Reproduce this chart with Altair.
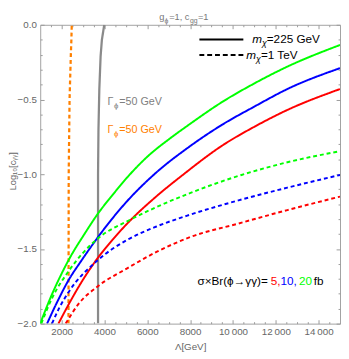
import altair as alt
import pandas as pd

# ---------------- data ----------------
lam_red_225 = [1850, 2410, 2915, 3690, 4370, 5200, 6290, 7700, 9480, 11030, 12540, 15000]
c_red_225 = [-2.0, -1.85, -1.725, -1.56, -1.44, -1.31, -1.165, -1.0, -0.81, -0.68, -0.57, -0.43]

lam_blue_225 = [1320, 1775, 2320, 2915, 3600, 5060, 6330, 8020, 9480, 11030, 12540, 15000]
c_blue_225 = [-2.0, -1.86, -1.71, -1.58, -1.44, -1.18, -1.0, -0.81, -0.67, -0.545, -0.43, -0.29]

lam_green_225 = [1000, 1500, 2000, 2500, 3000, 3690, 4400, 5195, 6100, 7020, 7980, 9480, 11030, 12540, 15000]
c_green_225 = [-2.0, -1.82, -1.665, -1.53, -1.415, -1.265, -1.135, -1.0, -0.87, -0.765, -0.665, -0.518, -0.39, -0.28, -0.135]

lam_red_1t = [2190, 2780, 3690, 5060, 6430, 8020, 10260, 12540, 15000]
c_red_1t = [-2.0, -1.87, -1.75, -1.63, -1.52, -1.42, -1.33, -1.24, -1.15]

lam_blue_1t = [1550, 1870, 2320, 3690, 5060, 6430, 8020, 10260, 12540, 15000]
c_blue_1t = [-2.0, -1.90, -1.79, -1.575, -1.44, -1.35, -1.27, -1.175, -1.09, -1.005]

lam_green_1t = [1050, 1550, 2320, 3690, 5060, 6430, 8020, 10400, 12540, 15000]
c_green_1t = [-2.0, -1.83, -1.65, -1.43, -1.315, -1.22, -1.125, -1.005, -0.92, -0.846]

lam_width_225 = [3700, 3700, 3720, 3760, 3820, 3880, 3990]
c_width_225 = [-2.0, -1.0, -0.7, -0.43, -0.21, -0.1, 0.0]

lam_width_1t = [2320, 2330, 2370, 2430, 2455, 2473]
c_width_1t = [-2.0, -1.0, -0.5, -0.2, -0.1, 0.0]

x_major = [2000, 4000, 6000, 8000, 10000, 12000, 14000]
x_minor = [v for v in range(1500, 15000, 500) if v % 2000 != 0]
y_major = [-2.0, -1.5, -1.0, -0.5, 0.0]
y_minor = [round(-2 + 0.1 * i, 1) for i in range(21) if i % 5 != 0]

curves = [
    ("red225", "solid", lam_red_225, c_red_225),
    ("blue225", "solid", lam_blue_225, c_blue_225),
    ("green225", "solid", lam_green_225, c_green_225),
    ("red1t", "dashed", lam_red_1t, c_red_1t),
    ("blue1t", "dashed", lam_blue_1t, c_blue_1t),
    ("green1t", "dashed", lam_green_1t, c_green_1t),
]
verticals = [
    ("width225", "solid", lam_width_225, c_width_225),
    ("width1t", "dashed", lam_width_1t, c_width_1t),
]
names = [s[0] for s in curves + verticals]
colors = ["#FF0000", "#0000FF", "#00FF00", "#FF0000", "#0000FF", "#00FF00", "#8a8a8a", "#FF8000"]


def to_df(lst):
    rows = []
    for name, style, lam, c in lst:
        for i, (l, v) in enumerate(zip(lam, c)):
            rows.append(dict(series=name, style=style, lam=l, c=v, idx=i))
    return pd.DataFrame(rows)


df_c = to_df(curves)
df_v = to_df(verticals)

FONT = "Liberation Sans, DejaVu Sans, sans-serif"
GRAY_TXT = "#666666"
TICK = "#9a9a9a"

xs = alt.Scale(domain=[1000, 15000], nice=False, zero=False)
ys = alt.Scale(domain=[-2, 0], nice=False, zero=False)
cs = alt.Scale(domain=names, range=colors)
ds = alt.Scale(domain=["solid", "dashed"], range=[[1, 0], [4, 3]])

lines = alt.Chart(df_c).mark_line(strokeWidth=2, clip=True, interpolate="monotone").encode(
    x=alt.X("lam:Q", scale=xs, axis=None),
    y=alt.Y("c:Q", scale=ys, axis=None),
    color=alt.Color("series:N", scale=cs, legend=None),
    strokeDash=alt.StrokeDash("style:N", scale=ds, legend=None),
    detail="series:N",
)

vlines = alt.Chart(df_v).mark_line(strokeWidth=2.3, clip=True).encode(
    x=alt.X("lam:Q", scale=xs, axis=None),
    y=alt.Y("c:Q", scale=ys, axis=None),
    color=alt.Color("series:N", scale=cs, legend=None),
    strokeDash=alt.StrokeDash("style:N", scale=ds, legend=None),
    detail="series:N",
    order="idx:Q",
)

xlabel_expr = "datum.value >= 10000 ? replace(format(datum.value, ','), ',', '\u2009') : format(datum.value, 'd')"


def axis_layer(xo, yo, xvals, yvals, size, labels, xtitle=None):
    xa = dict(orient=xo, values=xvals, tickSize=size, offset=-size, domain=False, grid=False,
              tickColor=TICK, labels=labels, title=xtitle if xtitle else "")
    ya = dict(orient=yo, values=yvals, tickSize=size, offset=-size, domain=False, grid=False,
              tickColor=TICK, labels=labels, title="")
    if labels:
        xa.update(labelExpr=xlabel_expr, labelFont=FONT, labelFontSize=10, labelColor=GRAY_TXT,
                  labelPadding=3, titleFont=FONT, titleFontSize=10, titleColor=GRAY_TXT,
                  titleFontWeight="normal", titlePadding=5)
        ya.update(format=".1f", labelFont=FONT, labelFontSize=10, labelColor=GRAY_TXT,
                  labelPadding=4)
    return alt.Chart(df_c).mark_point(opacity=0).encode(
        x=alt.X("lam:Q", scale=xs, axis=alt.Axis(**xa)),
        y=alt.Y("c:Q", scale=ys, axis=alt.Axis(**ya)),
    )


ax1 = axis_layer("bottom", "left", x_major, y_major, 4, True, "Λ[GeV]")
ax2 = axis_layer("bottom", "left", x_minor, y_minor, 2, False)
ax3 = axis_layer("top", "right", x_major, y_major, 4, False)
ax4 = axis_layer("top", "right", x_minor, y_minor, 2, False)

dummy = pd.DataFrame({"a": [0]})


def txt(s, x, y, size, color, italic=False, angle=0, align="left", baseline="alphabetic"):
    kw = dict(align=align, baseline=baseline, font=FONT, fontSize=size, color=color,
              fontStyle="italic" if italic else "normal")
    if angle:
        kw["angle"] = angle
    return alt.Chart(dummy).mark_text(**kw).encode(
        text=alt.value(s), x=alt.value(x), y=alt.value(y))


T_GRAY = "#777777"
texts = [
    # title
    txt("g", 122, -4.5, 9.5, T_GRAY), txt("ϕ", 127.3, -2.2, 7, T_GRAY),
    txt("=1, c", 132, -4.5, 9.5, T_GRAY), txt("gg", 153.3, -2.2, 7, T_GRAY), txt("=1", 161.5, -4.5, 9.5, T_GRAY),
    # y axis title
    txt("Log₁₀[cᵧᵧ]", -28, 150, 9.5, GRAY_TXT, angle=270, align="center", baseline="middle"),
    # width labels
    txt("Γ", 69, 82, 11, "#808080"), txt("ϕ", 75.5, 85, 8, "#808080"), txt("=50 GeV", 81, 82, 11, "#808080"),
    txt("Γ", 69, 110.5, 11, "#FF8000"), txt("ϕ", 75.5, 113.5, 8, "#FF8000"), txt("=50 GeV", 81, 110.5, 11, "#FF8000"),
    # legend
    txt("m", 217, 19, 12, "black", True), txt("χ", 227, 22, 9, "black", True), txt("=225 GeV", 232, 19, 12, "black"),
    txt("m", 211, 35.5, 12, "black", True), txt("χ", 221, 38.5, 9, "black", True), txt("=1 TeV", 226, 35.5, 12, "black"),
    # annotation
    txt("σ×Br(ϕ→γγ)=", 161, 266, 12, "black"), txt("5,", 236, 266, 12, "#FF0000"),
    txt("10,", 246, 266, 12, "#0000FF"), txt("20", 265, 266, 12, "#00FF00"), txt("fb", 280, 266, 12, "black"),
]

leg1 = alt.Chart(dummy).mark_rule(color="black", strokeWidth=2).encode(
    x=alt.value(163), x2=alt.value(208), y=alt.value(15))
leg2 = alt.Chart(dummy).mark_rule(color="black", strokeWidth=2, strokeDash=[5, 3]).encode(
    x=alt.value(163), x2=alt.value(208), y=alt.value(31))

chart = alt.layer(ax1, ax2, ax3, ax4, vlines, lines, leg1, leg2, *texts).resolve_axis(
    x="independent", y="independent"
).properties(
    width=307, height=306,
    autosize=alt.AutoSizeParams(type="none"),
    padding={"left": 33, "top": 13, "right": 1, "bottom": 31},
).configure_view(stroke="#a0a0a0", strokeWidth=1)

chart.save("out.html", embed_options={"renderer": "svg", "actions": False})
